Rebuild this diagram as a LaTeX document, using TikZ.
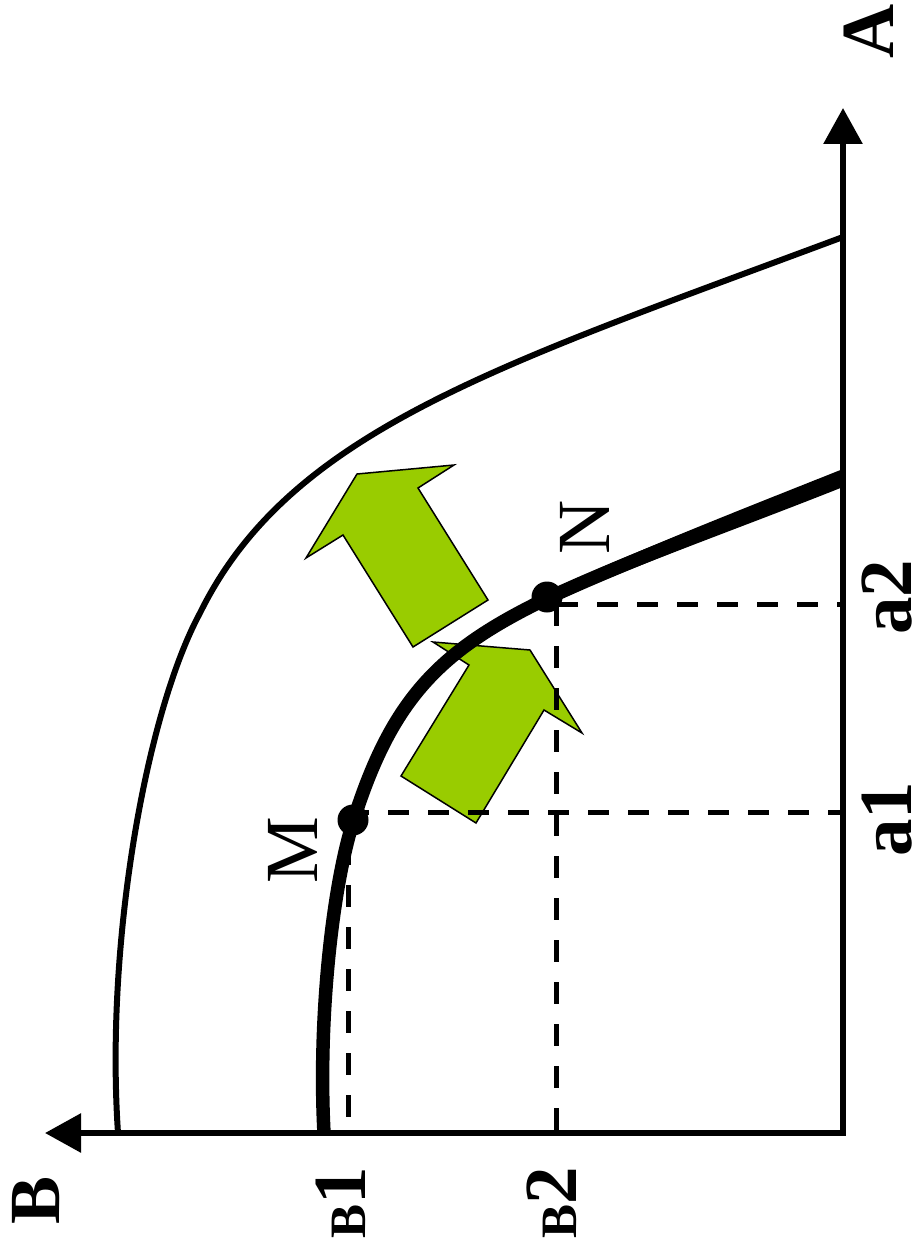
\documentclass[tikz,border=0pt]{standalone}
\usepackage{fontspec}
\setmainfont{Liberation Serif}
\usetikzlibrary{arrows.meta}
\definecolor{leaf}{HTML}{99CC00}
\begin{document}
\begin{tikzpicture}[x=1pt,y=-1pt,
  axisline/.style={line width=6pt, line join=miter,
    {Triangle[length=36pt,width=38pt]}-{Triangle[length=36pt,width=38pt]}},
  thincurve/.style={line width=6pt},
  thickcurve/.style={line width=13.5pt},
  hguide/.style={line width=5pt, dash pattern=on 21pt off 19pt},
  vguide/.style={line width=5pt, dash pattern=on 22pt off 20pt},
  greenarrow/.style={fill=leaf, draw=black, line width=1.5pt, line join=miter},
  pointdot/.style={circle, fill=black, inner sep=0pt, minimum size=31pt},
  boldlbl/.style={rotate=90, inner sep=0pt, font=\bfseries\fontsize{75}{75}\selectfont},
  lbl/.style={rotate=90, inner sep=0pt, font=\fontsize{75}{75}\selectfont},
]
\useasboundingbox (0,0) rectangle (919,1252);

% key points
\coordinate (O) at (843,1133);
\coordinate (Atip) at (843,108);
\coordinate (Btip) at (45,1133);
\coordinate (Mh) at (348,812);
\coordinate (Mha) at (843,812);
\coordinate (Mv) at (348,843);
\coordinate (Mvb) at (348,1133);
\coordinate (Nh) at (557,604);
\coordinate (Nha) at (843,604);
\coordinate (Nv) at (556,604);
\coordinate (Nvb) at (556,1133);

% green arrows
\draw[greenarrow] (343,535) -- (306,558) -- (357,474) -- (454,465) -- (418,488) -- (488,600) -- (413,647) -- cycle;
\draw[greenarrow] (469,665) -- (433,642) -- (530,650) -- (582,733) -- (544,710) -- (476,823) -- (401,776) -- cycle;

% dashed guides
\draw[hguide] (Mh) -- (Mha);
\draw[vguide] (Mv) -- (Mvb);
\draw[hguide] (Nh) -- (Nha);
\draw[vguide] (Nv) -- (Nvb);

% outer curve
\draw[thincurve] (843,237) .. controls (500,365) and (290,430) .. (200,613)
                 .. controls (147,711) and (105,940) .. (118,1133);

% inner (thick) curve
\draw[thickcurve] (843,478) .. controls (740,519) and (630,560) .. (548,598)
                  .. controls (440,650) and (392,698) .. (353,822)
                  .. controls (332,889) and (318,1020) .. (324,1133);
\fill (843,469) .. controls (740,510) and (630,553) .. (548,592)
      -- (548,604) .. controls (630,567) and (740,528) .. (843,487) -- cycle;

% points
\node[pointdot] (M) at (353,820) {};
\node[pointdot] (N) at (547,597) {};

% axes
\draw[axisline] (Atip) -- (O) -- (Btip);

% labels
\node[boldlbl] (lA) at (869,31) {A};
\node[boldlbl] (lB) at (36,1200) {\fontsize{72}{72}\selectfont B};
\node[boldlbl] (lB1) at (341,1203) {{\fontsize{51}{51}\selectfont B}1};
\node[boldlbl] (lB2) at (552,1203) {{\fontsize{51}{51}\selectfont B}2};
\node[boldlbl] (la1) at (887,819) {a1};
\node[boldlbl] (la2) at (887,597) {a2};
\node[lbl] (lM) at (293,850) {M};
\node[lbl] (lN) at (585,527) {N};
\end{tikzpicture}
\end{document}
